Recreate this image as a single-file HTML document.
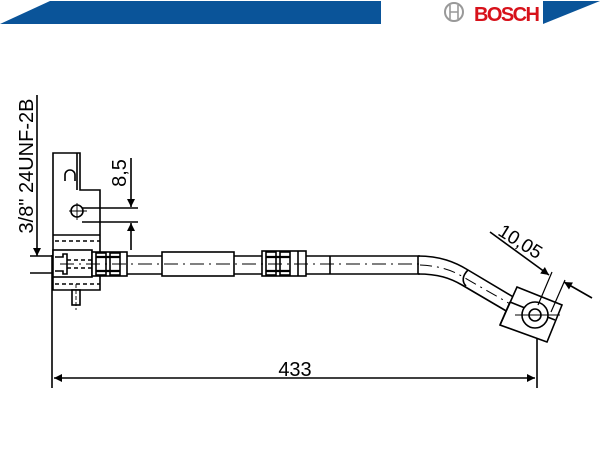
<!DOCTYPE html>
<html><head><meta charset="utf-8"><style>
html,body{margin:0;padding:0;background:#fff;}
svg{display:block;}
text{font-family:"Liberation Sans",sans-serif;}
</style></head><body>
<svg width="600" height="450" viewBox="0 0 600 450" xmlns="http://www.w3.org/2000/svg">
<defs>
<marker id="a" viewBox="0 0 10 10" refX="10" refY="5" markerWidth="13" markerHeight="8" orient="auto-start-reverse" markerUnits="userSpaceOnUse"><path d="M0,0 L10,5 L0,10 z" fill="#000"/></marker>
</defs>
<!-- banner -->
<polygon points="50,1 381,1 381,24 0,24" fill="#0a5499"/>
<polygon points="543,24 543,1 600,1" fill="#0a5499"/>
<circle cx="454" cy="12" r="9" fill="none" stroke="#999" stroke-width="2"/>
<path d="M450,5 V19 M458,5 V19 M450,12 H458" stroke="#999" stroke-width="1.6" fill="none"/>
<text x="474" y="21" font-size="20" font-weight="bold" fill="#d7121b" textLength="66">BOSCH</text>

<g stroke="#000" fill="none" stroke-width="1.6">
<!-- 433 dim -->
<line x1="52" y1="255" x2="52" y2="388"/>
<line x1="537" y1="300" x2="537" y2="388"/>
<line x1="54" y1="378" x2="535" y2="378" marker-start="url(#a)" marker-end="url(#a)"/>
<!-- thread arrow -->
<line x1="37" y1="95" x2="37" y2="256" marker-end="url(#a)"/>
<line x1="30" y1="256" x2="53" y2="256"/>
<line x1="30" y1="273" x2="53" y2="273"/>
<!-- bracket -->
<path d="M53,153 H80 V190 H100 V290 H53 Z" fill="#fff"/>
<line x1="77" y1="153" x2="77" y2="190"/>
<path d="M65,181 V175 A5,5 0 0 1 75,175 V181"/>
<line x1="53" y1="235" x2="100" y2="235"/>
<line x1="55" y1="241" x2="100" y2="241" stroke-dasharray="4,3"/>
<line x1="55" y1="284" x2="100" y2="284" stroke-dasharray="4,3"/>
<circle cx="77" cy="211" r="6"/>
<line x1="69" y1="211" x2="87" y2="211" stroke-width="0.9"/>
<line x1="77" y1="203" x2="77" y2="220" stroke-width="0.9"/>
<rect x="72" y="290" width="8" height="15" fill="#fff"/>
<line x1="76" y1="284" x2="76" y2="310" stroke-dasharray="4,2" stroke-width="0.9"/>
<!-- nut -->
<rect x="53" y="250" width="39" height="27" fill="#fff"/>
<path d="M55,257 H63 V254 H67 V274 H63 V271 H55" />
<line x1="67" y1="260" x2="92" y2="260" stroke-dasharray="4,3"/>
<line x1="67" y1="268" x2="92" y2="268" stroke-dasharray="4,3"/>
<!-- 8,5 dim -->
<line x1="82" y1="208" x2="138" y2="208"/>
<line x1="82" y1="222" x2="138" y2="222"/>
<line x1="131" y1="158" x2="131" y2="207" marker-end="url(#a)"/>
<line x1="131" y1="250" x2="131" y2="223" marker-end="url(#a)"/>
<!-- hose -->
<line x1="127" y1="256" x2="420" y2="256"/>
<line x1="127" y1="274" x2="420" y2="274"/>
<rect x="92" y="252" width="35" height="24" fill="#fff"/>
<rect x="96" y="253" width="10" height="22" fill="#fff"/>
<rect x="110" y="253" width="10" height="22" fill="#fff"/>
<line x1="96" y1="257" x2="120" y2="257" stroke-width="2.2"/>
<line x1="96" y1="271" x2="120" y2="271" stroke-width="2.2"/>
<rect x="162" y="252" width="72" height="24" fill="#fff"/>
<rect x="262" y="251" width="44" height="25" fill="#fff"/>
<rect x="266" y="252" width="10" height="23" fill="#fff"/>
<rect x="280" y="252" width="10" height="23" fill="#fff"/>
<line x1="266" y1="257" x2="290" y2="257" stroke-width="2.2"/>
<line x1="266" y1="271" x2="290" y2="271" stroke-width="2.2"/>
<line x1="298" y1="251" x2="298" y2="276"/>
<line x1="330" y1="256" x2="330" y2="274"/>
<line x1="418" y1="256" x2="418" y2="274"/>
<line x1="60" y1="264" x2="420" y2="264" stroke-dasharray="14,5,2,5" stroke-width="1"/>
<!-- bent tube -->
<path d="M418,256 C440,256 455,262 468,270 L515,298"/>
<path d="M418,274 C438,274 450,278 462,285 L508,312"/>
<path d="M468,270 C462,276 462,282 466,286"/>
<path d="M420,265 C440,266 452,270 465,278 L512,305" stroke-dasharray="12,5,2,5" stroke-width="1"/>
<!-- end block -->
<polygon points="517,287 562,305 547,342 500,325" fill="#fff"/>
<line x1="510" y1="302" x2="555" y2="320"/>
<line x1="500" y1="325" x2="510" y2="302"/>
<circle cx="535" cy="315" r="13" fill="#fff"/>
<circle cx="535" cy="315" r="6"/>
<line x1="515" y1="315" x2="560" y2="315" stroke-width="0.9"/>
<!-- 10,05 dim -->
<line x1="552" y1="272" x2="538" y2="305" stroke-width="1.2"/>
<line x1="565" y1="280" x2="551" y2="312" stroke-width="1.2"/>
<line x1="490" y1="232" x2="549" y2="275" marker-end="url(#a)"/>
<line x1="592" y1="298" x2="564" y2="282" marker-end="url(#a)"/>
</g>
<text x="295" y="376" font-size="20" text-anchor="middle">433</text>
<text transform="translate(33,166) rotate(-90)" font-size="20" text-anchor="middle">3/8" 24UNF-2B</text>
<text transform="translate(126,173) rotate(-90)" font-size="20" text-anchor="middle">8,5</text>
<text transform="translate(517,247) rotate(32)" font-size="19" text-anchor="middle">10,05</text>
</svg>
</body></html>
